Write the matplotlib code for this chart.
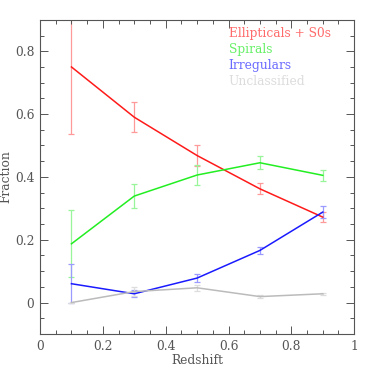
import matplotlib
matplotlib.use("Agg")
import matplotlib.pyplot as plt
import numpy as np
from matplotlib.ticker import MultipleLocator

plt.rcParams['font.family'] = ['DejaVu Serif']

redshift = [0.1, 0.3, 0.5, 0.7, 0.9]

ell = [0.75, 0.59, 0.468, 0.362, 0.272]
ell_err = [0.215, 0.048, 0.033, 0.018, 0.015]
spi = [0.187, 0.339, 0.406, 0.445, 0.405]
spi_err = [0.107, 0.037, 0.031, 0.02, 0.017]
irr = [0.06, 0.028, 0.078, 0.166, 0.288]
irr_err = [0.062, 0.011, 0.014, 0.012, 0.02]
unc = [0.0, 0.035, 0.047, 0.019, 0.028]
unc_err = [0.0, 0.013, 0.01, 0.004, 0.003]

labels = ["Ellipticals + S0s", "Spirals", "Irregulars", "Unclassified"]
series = [(ell, ell_err), (spi, spi_err), (irr, irr_err), (unc, unc_err)]
line_col = ["#ff1a1a", "#22ee22", "#1a1aff", "#bbbbbb"]
err_col = ["#ff9a9a", "#99f599", "#9a9aff", "#dddddd"]
txt_col = ["#ff6a6a", "#66f066", "#6a6aff", "#dcdcdc"]

fs = 8.8

fig = plt.figure(figsize=(3.74, 3.74), dpi=100)
ax = fig.add_axes([0.107, 0.107, 0.840, 0.840])

for i, (vals, errs) in enumerate(series):
    ax.errorbar(redshift, vals, yerr=errs, fmt="none", ecolor=err_col[i],
                elinewidth=0.9, capsize=2.2, capthick=0.9, zorder=1)
    ax.plot(redshift, vals, color=line_col[i], lw=1.1, zorder=2)

for i, lab in enumerate(labels):
    ax.text(0.60, 0.955 - i * 0.050, lab, color=txt_col[i], fontsize=fs,
            transform=ax.transAxes, va="center", ha="left")

ax.set_xlim(0, 1)
ax.set_ylim(-0.1, 0.9)
ax.xaxis.set_major_locator(MultipleLocator(0.2))
ax.xaxis.set_minor_locator(MultipleLocator(0.05))
ax.yaxis.set_major_locator(MultipleLocator(0.2))
ax.yaxis.set_minor_locator(MultipleLocator(0.05))
ax.xaxis.set_major_formatter(plt.FuncFormatter(lambda v, p: "%g" % round(v, 2)))
ax.yaxis.set_major_formatter(plt.FuncFormatter(lambda v, p: "%g" % round(v, 2)))

ax.tick_params(which="both", direction="in", top=True, right=True,
               colors="#555555", labelcolor="#555555", labelsize=fs, width=0.7)
ax.tick_params(which="major", length=5.5, pad=4)
ax.tick_params(which="minor", length=2.8)
for s in ax.spines.values():
    s.set_color("#555555")
    s.set_linewidth(0.8)

ax.set_xlabel("Redshift", fontsize=fs, color="#555555", labelpad=1)
ax.set_ylabel("Fraction", fontsize=fs, color="#555555", labelpad=2)

fig.savefig("out.png", dpi=100)
